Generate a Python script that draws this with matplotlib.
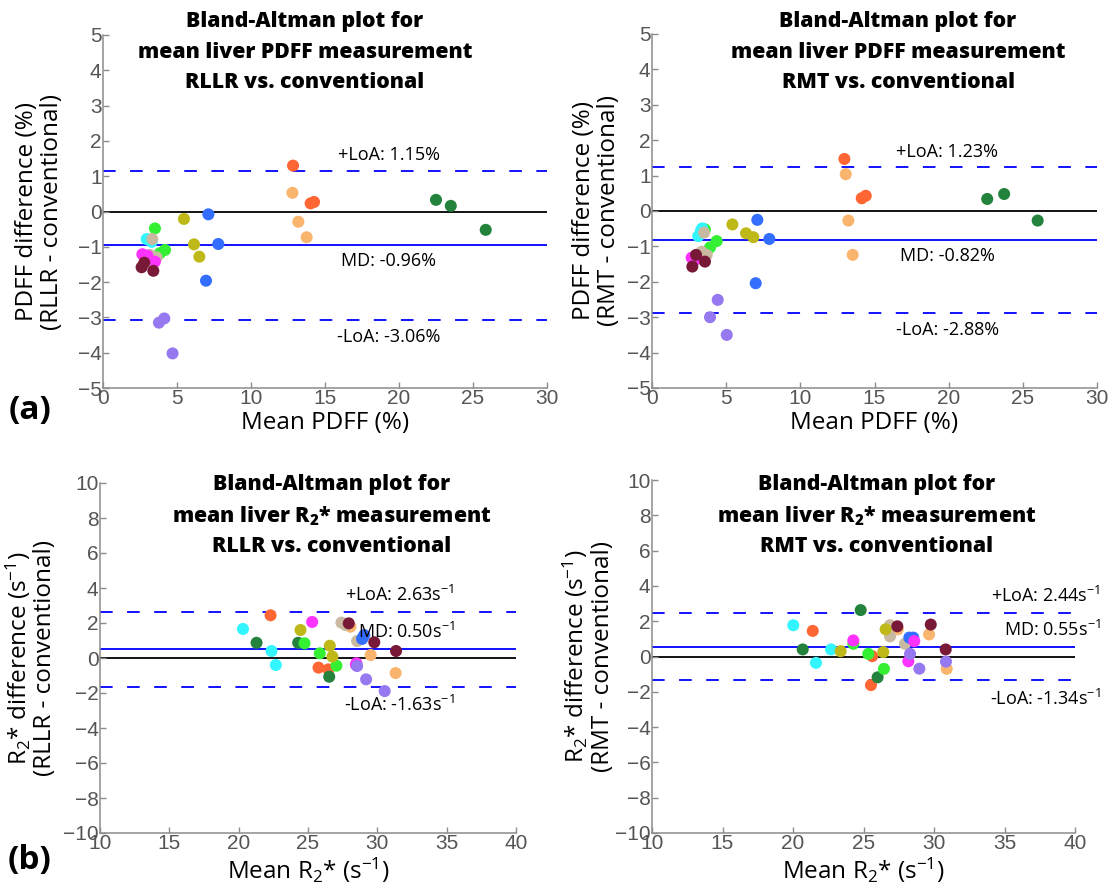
import matplotlib
matplotlib.use('Agg')
import matplotlib.pyplot as plt
import numpy as np

plt.rcParams['font.family'] = ['Open Sans', 'DejaVu Sans']
plt.rcParams['mathtext.default'] = 'regular'

# one colour per subject, three ROIs per subject
subject_colors = ['#FF6633', '#F9B46E', '#23823C', '#33F033', '#33F5FF', '#C8B9A0',
                  '#BEB919', '#336EFF', '#FF33FF', '#781937', '#9678F0']
groups = [0, 0, 0, 1, 1, 1, 2, 2, 2, 3, 3, 3, 4, 4, 4, 5, 5, 5,
          6, 6, 6, 7, 7, 7, 8, 8, 8, 9, 9, 9, 10, 10, 10]

# PDFF, RLLR vs conventional
pdff_rllr_mean = [12.84, 14.03, 14.26, 12.80, 13.20, 13.76, 22.5, 23.5, 25.86,
                  3.51, 4.19, 3.85, 2.95, 3.29, 3.10, 3.33, 3.18, 3.62,
                  5.47, 6.15, 6.51, 7.12, 7.79, 6.96, 2.66, 3.51, 3.00,
                  2.79, 2.61, 3.40, 4.14, 3.78, 4.70]
pdff_rllr_diff = [1.30, 0.23, 0.27, 0.53, -0.29, -0.73, 0.33, 0.16, -0.52,
                  -0.48, -1.09, -1.18, -0.78, -0.86, -0.80, -0.78, -1.23, -1.30,
                  -0.21, -0.93, -1.28, -0.08, -0.92, -1.96, -1.21, -1.42, -1.25,
                  -1.45, -1.58, -1.68, -3.03, -3.15, -4.02]

# PDFF, RMT vs conventional
pdff_rmt_mean = [12.97, 14.14, 14.41, 13.06, 13.24, 13.53, 22.6, 23.74, 26.0,
                 3.57, 4.36, 3.91, 3.39, 3.12, 3.30, 3.51, 3.35, 3.69,
                 5.42, 6.34, 6.83, 7.10, 7.91, 6.99, 2.67, 2.85, 3.05,
                 2.97, 3.57, 2.72, 4.43, 3.91, 5.04]
pdff_rmt_diff = [1.47, 0.36, 0.43, 1.04, -0.27, -1.24, 0.34, 0.48, -0.27,
                 -0.52, -0.85, -1.03, -0.49, -0.71, -0.55, -0.61, -1.15, -1.24,
                 -0.38, -0.63, -0.74, -0.25, -0.79, -2.04, -1.32, -1.30, -1.35,
                 -1.24, -1.43, -1.57, -2.51, -3.00, -3.50]

# R2*, RLLR vs conventional
r2_rllr_mean = [22.30, 25.76, 26.47, 28.06, 29.52, 31.32, 21.29, 24.29, 26.53,
                24.75, 25.85, 27.05, 20.31, 22.37, 22.68, 27.41, 27.70, 28.54,
                24.46, 26.57, 26.76, 29.06, 28.90, 28.98, 25.30, 28.49, 28.45,
                27.94, 29.78, 31.35, 28.54, 29.19, 30.53]
r2_rllr_diff = [2.44, -0.55, -0.65, 1.79, 0.17, -0.86, 0.87, 0.87, -1.07,
                0.84, 0.27, -0.44, 1.66, 0.40, -0.40, 2.02, 1.89, 0.97,
                1.60, 0.70, 0.08, 1.31, 1.09, 1.20, 2.06, -0.30, -0.38,
                1.98, 0.90, 0.40, -0.46, -1.22, -1.89]

# R2*, RMT vs conventional
r2_rmt_mean = [21.40, 25.62, 25.53, 27.43, 29.65, 30.90, 20.69, 24.80, 26.00,
               24.28, 25.34, 26.45, 20.02, 21.63, 22.70, 26.88, 26.88, 27.94,
               23.38, 26.40, 26.57, 28.25, 28.53, 28.40, 24.28, 28.60, 28.18,
               27.40, 29.77, 30.83, 28.30, 28.96, 30.85]
r2_rmt_diff = [1.45, 0.02, -1.62, 1.54, 1.25, -0.70, 0.40, 2.63, -1.18,
               0.72, 0.15, -0.70, 1.77, -0.36, 0.40, 1.77, 1.14, 0.72,
               0.30, 0.25, 1.54, 1.07, 1.07, 1.02, 0.91, 0.87, -0.27,
               1.71, 1.81, 0.40, 0.15, -0.69, -0.29]

# mean difference and limits of agreement (from the labels)
pdff_rllr_stats = (-0.96, 1.15, -3.06)
pdff_rmt_stats = (-0.82, 1.23, -2.88)
r2_rllr_stats = (0.50, 2.63, -1.63)
r2_rmt_stats = (0.55, 2.44, -1.34)

W, H = 1114, 886
fig = plt.figure(figsize=(W / 100, H / 100), dpi=100)


def make_axes(x0, y0, x1, y1):
    return fig.add_axes([x0 / W, 1 - y1 / H, (x1 - x0) / W, (y1 - y0) / H])


def style_axes(ax):
    ax.spines['top'].set_visible(False)
    ax.spines['right'].set_visible(False)
    for s in ['left', 'bottom']:
        ax.spines[s].set_color('#8c8c8c')
        ax.spines[s].set_linewidth(1.1)
    ax.tick_params(direction='in', length=4, width=1, color='#8c8c8c',
                   labelcolor='#555555', labelsize=15, pad=1)
    for lab in ax.get_xticklabels() + ax.get_yticklabels():
        lab.set_family('Liberation Sans')


def bland_altman(ax, xs, ys, stats, unit, text_x, ha, md_above):
    md, up, lo = stats
    ax.axhline(0, color='black', lw=1.3, zorder=1)
    ax.axhline(md, color='#0000FF', lw=1.3, zorder=1)
    ax.axhline(up, color='#0000FF', lw=1.3, ls=(0, (7, 8)), zorder=1)
    ax.axhline(lo, color='#0000FF', lw=1.3, ls=(0, (7, 8)), zorder=1)
    cols = [subject_colors[g] for g in groups]
    ax.scatter(xs, ys, s=75, c=cols, edgecolors='none', zorder=3)
    kw = dict(fontsize=13, ha=ha, textcoords='offset points', color='black',
              annotation_clip=False)
    ax.annotate('+LoA: %.2f%s' % (up, unit), (text_x, up), xytext=(0, 5), va='bottom', **kw)
    if md_above:
        ax.annotate('MD: %.2f%s' % (md, unit), (text_x, md), xytext=(0, 5), va='bottom', **kw)
    else:
        ax.annotate('MD: %.2f%s' % (md, unit), (text_x, md), xytext=(0, -5), va='top', **kw)
    ax.annotate('-LoA: %.2f%s' % (lo, unit), (text_x, lo), xytext=(0, -6), va='top', **kw)


def add_title(lines, x_center, y_first):
    for i, line in enumerate(lines):
        fig.text(x_center / W, 1 - (y_first + 31 * i) / H, line, ha='center', va='center',
                 fontsize=15.3, fontweight=800)


def add_labels(ax, xlabel, ylabel, ypad):
    ax.set_xlabel(xlabel, fontsize=17.5, labelpad=2)
    ax.set_ylabel(ylabel, fontsize=17.5, labelpad=ypad, linespacing=1.05)


# (a) PDFF
ax1 = make_axes(103, 35, 547, 388)
bland_altman(ax1, pdff_rllr_mean, pdff_rllr_diff, pdff_rllr_stats, '%', 19.3, 'center', False)
ax1.set_xlim(0, 30)
ax1.set_ylim(-5, 5)
ax1.set_xticks(np.arange(0, 31, 5))
ax1.set_yticks(np.arange(-5, 6, 1))
style_axes(ax1)
add_labels(ax1, 'Mean PDFF (%)', 'PDFF difference (%)\n(RLLR - conventional)', 10)
add_title(['Bland-Altman plot for', 'mean liver PDFF measurement', 'RLLR vs. conventional'], 305, 21)

ax2 = make_axes(652, 34, 1097, 388)
bland_altman(ax2, pdff_rmt_mean, pdff_rmt_diff, pdff_rmt_stats, '%', 19.9, 'center', False)
ax2.set_xlim(0, 30)
ax2.set_ylim(-5, 5)
ax2.set_xticks(np.arange(0, 31, 5))
ax2.set_yticks(np.arange(-5, 6, 1))
style_axes(ax2)
add_labels(ax2, 'Mean PDFF (%)', 'PDFF difference (%)\n(RMT - conventional)', 4)
add_title(['Bland-Altman plot for', 'mean liver PDFF measurement', 'RMT vs. conventional'], 898, 21)

# (b) R2*
r2_unit = '$s^{-1}$'
ax3 = make_axes(100, 483, 516, 833)
bland_altman(ax3, r2_rllr_mean, r2_rllr_diff, r2_rllr_stats, r2_unit, 35.55, 'right', True)
ax3.set_xlim(10, 40)
ax3.set_ylim(-10, 10)
ax3.set_xticks(np.arange(10, 41, 5))
ax3.set_yticks(np.arange(-10, 11, 2))
style_axes(ax3)
add_labels(ax3, 'Mean $R_2$* ($s^{-1}$)', '$R_2$* difference ($s^{-1}$)\n(RLLR - conventional)', 4)
add_title(['Bland-Altman plot for', 'mean liver $R_2$* measurement', 'RLLR vs. conventional'], 332, 485)

ax4 = make_axes(652, 480, 1075, 833)
bland_altman(ax4, r2_rmt_mean, r2_rmt_diff, r2_rmt_stats, r2_unit, 41.8, 'right', True)
ax4.set_xlim(10, 40)
ax4.set_ylim(-10, 10)
ax4.set_xticks(np.arange(10, 41, 5))
ax4.set_yticks(np.arange(-10, 11, 2))
style_axes(ax4)
add_labels(ax4, 'Mean $R_2$* ($s^{-1}$)', '$R_2$* difference ($s^{-1}$)\n(RMT - conventional)', 0)
add_title(['Bland-Altman plot for', 'mean liver $R_2$* measurement', 'RMT vs. conventional'], 877, 485)

fig.text(30 / W, 1 - 410 / H, '(a)', fontsize=24, fontweight='bold', ha='center', va='center')
fig.text(30 / W, 1 - 860 / H, '(b)', fontsize=24, fontweight='bold', ha='center', va='center')

fig.savefig('out.png', dpi=100)
